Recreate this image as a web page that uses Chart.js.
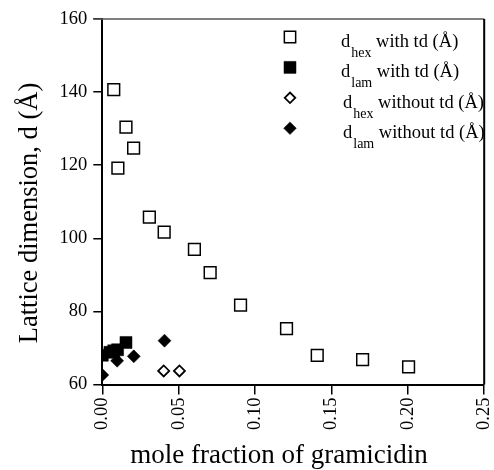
<!DOCTYPE html>
<html>
<head>
<meta charset="utf-8">
<script src="https://cdn.jsdelivr.net/npm/chart.js@4.4.0/dist/chart.umd.min.js"></script>
<style>
  body { margin: 0; background: #fff; }
  #wrap { width: 494px; height: 470px; }
</style>
</head>
<body>
<div id="wrap"><canvas id="scatter-chart" width="494" height="470"></canvas></div>
<script>
// --- datos ---
const HEX_WITH_X = [0.0075, 0.0155, 0.0205, 0.0102, 0.0308, 0.0405, 0.0603, 0.0706, 0.0905, 0.1206, 0.1407, 0.1704, 0.2005];
const HEX_WITH_Y = [140.7, 130.4, 124.7, 119.2, 105.8, 101.7, 97.0, 90.6, 81.7, 75.3, 68.0, 66.8, 64.8];

const LAM_WITH_X = [0, 0.005, 0.0075, 0.01, 0.0155];
const LAM_WITH_Y = [68.0, 68.8, 69.2, 69.5, 71.5];

const HEX_WITHOUT_X = [0.0402, 0.0505];
const HEX_WITHOUT_Y = [63.7, 63.7];

const LAM_WITHOUT_X = [0, 0.0097, 0.0206, 0.0407];
const LAM_WITHOUT_Y = [62.6, 66.5, 67.7, 72.0];

const LEGEND_SUB = ['hex', 'lam', 'hex', 'lam'];
const LEGEND_REST = [' with td (Å)', ' with td (Å)', ' without td (Å)', ' without td (Å)'];

const X_TICKS = [0, 0.05, 0.10, 0.15, 0.20, 0.25];
const Y_TICKS = [60, 80, 100, 120, 140, 160];

const X_TITLE = 'mole fraction of gramicidin';
const Y_TITLE = 'Lattice dimension, d (Å)';

const SERIF = '"Liberation Serif", "Times New Roman", serif';

const toPoints = (xs, ys) => xs.map((x, i) => ({ x: x, y: ys[i] }));

const noPadding = () => ({ left: 0, right: 0, top: 0, bottom: 0 });

// marco, titulos y leyenda con subindices
const extras = {
  id: 'extras',
  afterDraw: chart => {
    const ctx = chart.ctx;
    const area = chart.chartArea;
    ctx.save();

    ctx.strokeStyle = '#555';
    ctx.lineWidth = 1.5;
    ctx.beginPath();
    ctx.moveTo(area.left - 9, area.top);
    ctx.lineTo(area.right, area.top);
    ctx.stroke();

    ctx.strokeStyle = '#000';
    ctx.lineWidth = 2;
    ctx.beginPath();
    ctx.moveTo(area.right, area.top);
    ctx.lineTo(area.right, area.bottom);
    ctx.stroke();

    ctx.fillStyle = '#000';
    ctx.font = '27px ' + SERIF;
    ctx.textAlign = 'center';
    ctx.textBaseline = 'alphabetic';
    ctx.fillText(X_TITLE, 279, 463);

    ctx.save();
    ctx.translate(37, 213);
    ctx.rotate(-Math.PI / 2);
    ctx.font = '26.5px ' + SERIF;
    ctx.fillText(Y_TITLE, 0, 0);
    ctx.restore();

    ctx.textAlign = 'left';
    chart.data.datasets.forEach((ds, i) => {
      const cy = 37 + i * 30.4;
      ctx.fillStyle = ds.backgroundColor;
      ctx.strokeStyle = ds.borderColor;
      ctx.lineWidth = ds.borderWidth;
      Chart.helpers.drawPoint(ctx, {
        pointStyle: ds.pointStyle,
        radius: ds.legendRadius,
        borderWidth: ds.borderWidth,
        rotation: 0,
      }, 290, cy);

      ctx.fillStyle = '#000';
      let x = i < 2 ? 341 : 343;
      ctx.font = '18.5px ' + SERIF;
      ctx.fillText('d', x, cy + 10);
      x += ctx.measureText('d').width + 1;
      ctx.font = '14px ' + SERIF;
      ctx.fillText(LEGEND_SUB[i], x, cy + 20);
      x += ctx.measureText(LEGEND_SUB[i]).width;
      ctx.font = '18.5px ' + SERIF;
      ctx.fillText(LEGEND_REST[i], x, cy + 10);
    });

    ctx.restore();
  },
};

new Chart(document.getElementById('scatter-chart'), {
  type: 'scatter',
  data: {
    datasets: [
      {
        label: 'dhex with td (Å)',
        data: toPoints(HEX_WITH_X, HEX_WITH_Y),
        pointStyle: 'rect',
        pointRadius: 8.3,
        legendRadius: 8,
        backgroundColor: '#fff',
        borderColor: '#000',
        borderWidth: 1.5,
      },
      {
        label: 'dlam with td (Å)',
        data: toPoints(LAM_WITH_X, LAM_WITH_Y),
        pointStyle: 'rect',
        pointRadius: 8.5,
        legendRadius: 8.5,
        backgroundColor: '#000',
        borderColor: '#000',
        borderWidth: 0.5,
      },
      {
        label: 'dhex without td (Å)',
        data: toPoints(HEX_WITHOUT_X, HEX_WITHOUT_Y),
        pointStyle: 'rectRot',
        pointRadius: 5.5,
        legendRadius: 5.3,
        backgroundColor: '#fff',
        borderColor: '#000',
        borderWidth: 1.8,
      },
      {
        label: 'dlam without td (Å)',
        data: toPoints(LAM_WITHOUT_X, LAM_WITHOUT_Y),
        pointStyle: 'rectRot',
        pointRadius: 6.5,
        legendRadius: 6.3,
        backgroundColor: '#000',
        borderColor: '#000',
        borderWidth: 0.5,
      },
    ],
  },
  options: {
    responsive: false,
    animation: false,
    layout: { padding: { left: 0, right: 6.7, top: 19, bottom: 0 } },
    plugins: {
      legend: { display: false },
      tooltip: { enabled: false },
    },
    scales: {
      x: {
        type: 'linear',
        min: 0,
        max: 0.25,
        afterFit: scale => {
          scale.height = 85.5;
          scale.paddingLeft = 0;
          scale.paddingRight = 0;
          scale.getPadding = noPadding;
        },
        afterBuildTicks: scale => { scale.ticks = X_TICKS.map(v => ({ value: v })); },
        grid: { display: true, drawOnChartArea: false, drawTicks: true, tickLength: 10, color: '#000', lineWidth: 1.5 },
        border: { display: true, color: '#000', width: 2 },
        ticks: {
          minRotation: 90,
          maxRotation: 90,
          padding: 3,
          color: '#000',
          font: { family: SERIF, size: 18.5 },
          callback: v => v.toFixed(2),
        },
      },
      y: {
        type: 'linear',
        min: 60,
        max: 160,
        afterFit: scale => {
          scale.width = 102.3;
          scale.paddingTop = 0;
          scale.paddingBottom = 0;
          scale.getPadding = noPadding;
        },
        afterBuildTicks: scale => { scale.ticks = Y_TICKS.map(v => ({ value: v })); },
        grid: { display: true, drawOnChartArea: false, drawTicks: true, tickLength: 9, color: '#000', lineWidth: 1.5 },
        border: { display: true, color: '#000', width: 2 },
        ticks: {
          padding: 6,
          color: '#000',
          font: { family: SERIF, size: 18.5 },
        },
      },
    },
  },
  plugins: [extras],
});
</script>
</body>
</html>
